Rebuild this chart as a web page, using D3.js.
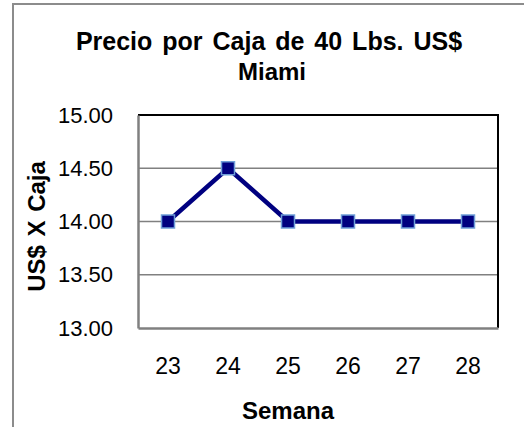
<!DOCTYPE html>
<html lang="es">
<head>
<meta charset="UTF-8">
<title>Precio por Caja</title>
<script src="https://cdn.jsdelivr.net/npm/d3@7/dist/d3.min.js"></script>
<style>
  body { margin:0; background:#fff; }
  text { font-family:"Liberation Sans", Arial, sans-serif; fill:#000; }
  .negrita { font-weight:bold; font-size:24px; }
</style>
</head>
<body>
<div id="grafica"></div>
<script>
// datos
semanas=['23','24','25','26','27','28']
precios=[14.00,14.50,14.00,14.00,14.00,14.00]
ticksY=[13.00,13.50,14.00,14.50,15.00]

var ancho=524, alto=427
var plot={left:138, top:115, right:498, bottom:328}

var svg=d3.select('#grafica').append('svg')
	.attr('width',ancho)
	.attr('height',alto)

// marco exterior
svg.append('path')
	.attr('d','M13,'+alto+'V4H'+ancho)
	.attr('fill','none')
	.attr('stroke','#8c8c8c')
	.attr('stroke-width',2)

var x=d3.scaleBand().domain(semanas).range([plot.left,plot.right])
var y=d3.scaleLinear().domain([13,15]).range([plot.bottom,plot.top])

// rejilla
svg.selectAll('line.grid').data(ticksY.slice(1,-1)).enter()
	.append('line')
	.attr('class','grid')
	.attr('x1',plot.left).attr('x2',plot.right)
	.attr('y1',function(d){return y(d)}).attr('y2',function(d){return y(d)})
	.attr('stroke','#808080').attr('stroke-width',1.5)

// borde superior y derecho
svg.append('path')
	.attr('d','M'+plot.left+','+plot.top+'H'+plot.right+'V'+plot.bottom)
	.attr('fill','none').attr('stroke','#000').attr('stroke-width',2)

// eje y
var ejeY=svg.append('g')
	.attr('transform','translate('+plot.left+',0)')
	.call(d3.axisLeft(y).tickValues(ticksY).tickFormat(d3.format('.2f')).tickSize(0).tickPadding(25))
ejeY.select('.domain').attr('stroke','#808080').attr('stroke-width',2.5)
ejeY.selectAll('text').style('font-size','22px').attr('fill','#000')

// eje x
var ejeX=svg.append('g')
	.attr('transform','translate(0,'+plot.bottom+')')
	.call(d3.axisBottom(x).tickSize(0).tickPadding(30))
ejeX.select('.domain').attr('stroke','#808080').attr('stroke-width',2.5)
ejeX.selectAll('text').style('font-size','23px').attr('fill','#000')

// linea
var linea=d3.line()
	.x(function(d,i){return x(semanas[i])+x.bandwidth()/2})
	.y(function(d){return y(d)})
svg.append('path')
	.datum(precios)
	.attr('fill','none')
	.attr('stroke','#000080')
	.attr('stroke-width',4.5)
	.attr('d',linea)

// marcadores
var lado=13
svg.selectAll('rect.punto').data(precios).enter()
	.append('rect')
	.attr('class','punto')
	.attr('x',function(d,i){return x(semanas[i])+x.bandwidth()/2-lado/2})
	.attr('y',function(d){return y(d)-lado/2})
	.attr('width',lado).attr('height',lado)
	.attr('fill','#000080')
	.attr('stroke','#6f9fd8')
	.attr('stroke-width',1.5)

// titulos
svg.append('text')
	.attr('class','negrita')
	.attr('x',269).attr('y',50)
	.attr('text-anchor','middle')
	.style('font-size','25px').style('word-spacing','3px')
	.text('Precio por Caja de 40 Lbs. US$')
svg.append('text')
	.attr('class','negrita')
	.attr('x',272).attr('y',80)
	.attr('text-anchor','middle')
	.text('Miami')
svg.append('text')
	.attr('class','negrita')
	.attr('transform','translate(45,'+((plot.top+plot.bottom)/2+5)+') rotate(-90)')
	.attr('text-anchor','middle')
	.style('word-spacing','2px')
	.text('US$ X Caja')
svg.append('text')
	.attr('class','negrita')
	.attr('x',288).attr('y',419)
	.attr('text-anchor','middle')
	.text('Semana')
</script>
</body>
</html>
